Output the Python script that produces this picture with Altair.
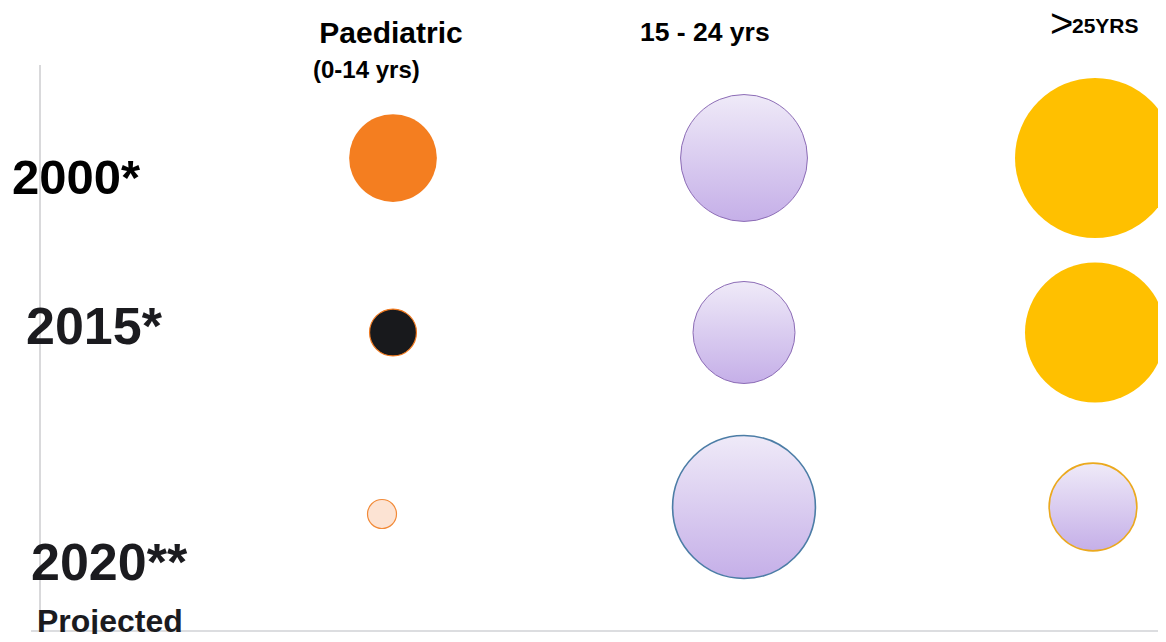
import json
import altair as alt
import pandas as pd

# ---- data ----
age_groups = ["Paediatric (0-14 yrs)", "15 - 24 yrs", ">25 yrs"]
years = ["2000*", "2015*", "2020** Projected"]
# relative bubble sizes (area units) for each age group, per year
paediatric = [77, 22, 8.4]
youth = [161, 104, 204]
adults = [256, 196, 77]

rows = []
for age, vals in zip(age_groups, [paediatric, youth, adults]):
    for yr, v in zip(years, vals):
        rows.append({"age": age, "year": yr, "value": v})
df = pd.DataFrame(rows)

W, H = 1150, 626

x_enc = alt.X("col:Q", scale=alt.Scale(domain=[0, 2], range=[385, 1087]), axis=None)
y_enc = alt.Y("row:Q", scale=alt.Scale(domain=[0, 2], range=[150, 499]), axis=None)
size_enc = alt.Size("value:Q", scale=alt.Scale(domain=[0, 256], range=[0, 25600], zero=True),
                    legend=None)

lav = alt.Gradient(
    gradient="linear",
    stops=[alt.GradientStop(color="#EFEAF8", offset=0),
           alt.GradientStop(color="#C5AFE8", offset=1)],
    x1=0, x2=0, y1=0, y2=1,
)

a0, a1, a2 = age_groups
y0, y1, y2 = years
styles = [
    (a0, y0, dict(fill="#F47E20", strokeWidth=0)),
    (a0, y1, dict(fill="#18191C", stroke="#F07A20", strokeWidth=1.2)),
    (a0, y2, dict(fill="#FCE3D3", stroke="#F28A38", strokeWidth=1.2, xOffset=-11, yOffset=7)),
    (a1, y0, dict(fill=lav, stroke="#8C6CB6", strokeWidth=1)),
    (a1, y1, dict(fill=lav, stroke="#8C6CB6", strokeWidth=1)),
    (a1, y2, dict(fill=lav, stroke="#4C7DA6", strokeWidth=1.6)),
    (a2, y0, dict(fill="#FFC000", strokeWidth=0)),
    (a2, y1, dict(fill="#FFC000", strokeWidth=0)),
    (a2, y2, dict(fill=lav, stroke="#EBA91E", strokeWidth=1.6, xOffset=-2)),
]

base = alt.Chart(df).transform_calculate(
    col=f"indexof({json.dumps(age_groups)}, datum.age)",
    row=f"indexof({json.dumps(years)}, datum.year)",
)
layers = []

# gray frame lines
layers.append(alt.Chart(df).mark_rule(color="#D9D9DB", strokeWidth=1.5).encode(
    x=alt.value(32), y=alt.value(57), y2=alt.value(622)))
layers.append(alt.Chart(df).mark_rule(color="#DCDDE0", strokeWidth=2).encode(
    x=alt.value(23), x2=alt.value(W), y=alt.value(623)))

for age, yr, st in styles:
    layers.append(
        base.transform_filter((alt.datum.age == age) & (alt.datum.year == yr))
        .mark_circle(opacity=1, **st)
        .encode(x=x_enc, y=y_enc, size=size_enc)
    )


def txt(text, x, y, size, weight="bold", color="#111111", align="left"):
    return alt.Chart(pd.DataFrame({"t": [text]})).mark_text(
        font="Liberation Sans", fontSize=size, fontWeight=weight, color=color,
        align=align, baseline="alphabetic",
    ).encode(text="t:N", x=alt.value(x), y=alt.value(y))


# column headers
layers.append(txt("Paediatric", 383, 35, 30, align="center", color="#000000"))
layers.append(txt("(0-14 yrs)", 305, 70, 24, color="#000000"))
layers.append(txt("15 - 24 yrs", 632, 33, 26.5, color="#000000"))
layers.append(txt(">", 1042, 29, 40, weight="normal", color="#000000"))
layers.append(txt("25YRS", 1064, 25, 21, color="#000000"))

# row labels
layers.append(txt("2000*", 4, 186, 49, color="#000000"))
layers.append(txt("2015*", 18, 336, 52, color="#1B1B1F"))
layers.append(txt("2020**", 23, 572, 52, color="#1B1B1F"))
layers.append(txt("Projected", 29, 624, 32, color="#1B1B1F"))

chart = alt.layer(*layers).properties(
    width=W, height=H, padding=0, autosize="none"
).configure_view(stroke=None)

chart.save("out.html", embed_options={"renderer": "svg", "actions": False})
